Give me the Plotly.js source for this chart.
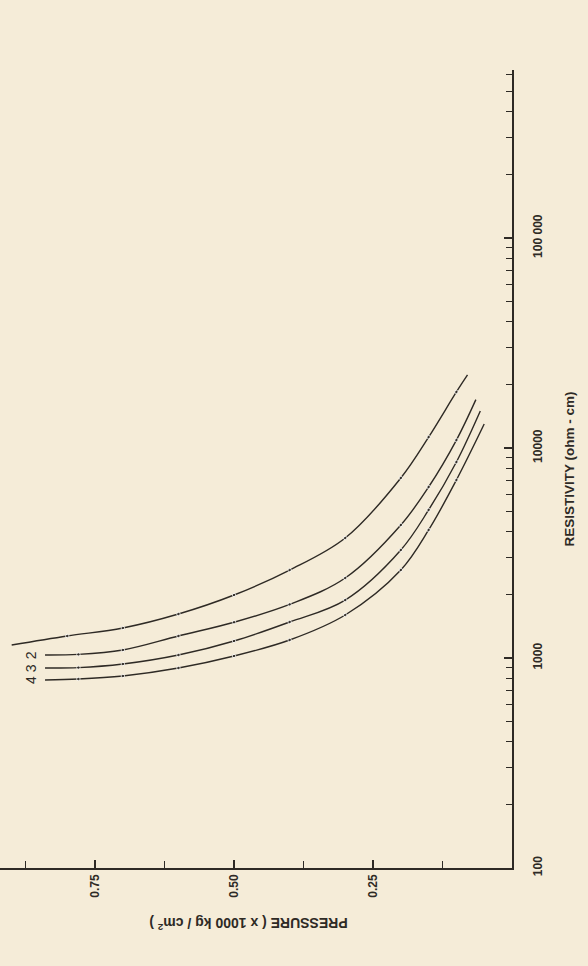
<!DOCTYPE html>
<html>
<head>
<meta charset="utf-8">
<script src="https://cdn.plot.ly/plotly-3.0.1.min.js"></script>
<style>
  html, body { margin: 0; padding: 0; background: #f5ecd8; }
  #chart { width: 588px; height: 966px; }
</style>
</head>
<body>
<div id="chart"></div>
<script>
// Pressure (x1000 kg/cm^2) and resistivity (ohm-cm)
const pressure1 = [0.90, 0.80, 0.70, 0.60, 0.50, 0.40, 0.30, 0.20, 0.15, 0.10, 0.08];
const resist1   = [1153, 1273, 1390, 1620, 1995, 2624, 3728, 7200, 11270, 18490, 22280];
const pressure2 = [0.84, 0.78, 0.70, 0.60, 0.50, 0.40, 0.30, 0.20, 0.15, 0.10, 0.065];
const resist2   = [1033, 1040, 1092, 1273, 1480, 1800, 2404, 4298, 6520, 10910, 17000];
const pressure3 = [0.84, 0.78, 0.70, 0.60, 0.50, 0.40, 0.30, 0.20, 0.15, 0.10, 0.057];
const resist3   = [896, 900, 936, 1033, 1205, 1484, 1888, 3268, 5070, 8575, 15000];
const pressure4 = [0.84, 0.78, 0.70, 0.60, 0.50, 0.40, 0.30, 0.20, 0.15, 0.10, 0.05];
const resist4   = [786, 794, 821, 896, 1022, 1218, 1602, 2624, 4070, 7040, 13000];
const curveNames = ['1', '2', '3', '4'];

const pressureTicks = [0.25, 0.50, 0.75];
const pressureTickText = ['0.25', '0.50', '0.75'];
const resistTicks = [100, 1000, 10000, 100000];
const resistTickText = ['100', '1000', '10000', '100 000'];

const ink = '#2e2a25';
const paper = '#f5ecd8';
const fontFamily = 'Liberation Sans, Arial, sans-serif';

const series = [
  [pressure1, resist1], [pressure2, resist2], [pressure3, resist3], [pressure4, resist4]
];

const traces = series.map(function (s, i) {
  const n = s[0].length;
  const sizes = s[0].map(function (_, j) { return (j === 0 || j === n - 1) ? 0 : 3.5; });
  return {
    x: s[0], y: s[1], name: curveNames[i],
    type: 'scatter', mode: 'lines+markers',
    line: { color: ink, width: 1.4, shape: 'spline', smoothing: 1 },
    marker: { color: ink, size: sizes, symbol: 'circle' },
    showlegend: false, hoverinfo: 'skip'
  };
});

// minor tick positions for the axes
const minorResist = [];
for (let d = 100; d <= 100000; d *= 10) {
  for (let k = 2; k <= 9; k++) minorResist.push(d * k);
}
const minorPressure = [0.125, 0.375, 0.625, 0.875];

const tickFont = { family: fontFamily, size: 12, color: ink, weight: 'bold' };

// labels of curves 2, 3, 4 at their high-pressure ends
const annotations = [1, 2, 3].map(function (i) {
  return {
    x: series[i][0][0] + 0.025, y: Math.log10(series[i][1][0]),
    xref: 'x', yref: 'y', text: curveNames[i], showarrow: false,
    textangle: -90, font: { family: fontFamily, size: 14, color: ink }
  };
});
annotations.push({
  xref: 'paper', yref: 'paper', x: 0.485, y: -0.07,
  xanchor: 'center', yanchor: 'middle',
  text: 'PRESSURE ( x 1000 kg / cm<sup>2</sup> )', showarrow: false,
  textangle: 180, font: { family: fontFamily, size: 14, color: ink, weight: 'bold' }
});

const layout = {
  width: 588, height: 966,
  margin: { l: 0, r: 76, t: 70, b: 98 },
  paper_bgcolor: paper, plot_bgcolor: paper,
  showlegend: false,
  xaxis: {
    range: [0.921, 0], showgrid: false, zeroline: false,
    showline: true, linecolor: ink, linewidth: 1.6,
    tickmode: 'array', tickvals: pressureTicks, ticktext: pressureTickText,
    ticks: 'inside', ticklen: 8, tickwidth: 1.2, tickcolor: ink,
    tickangle: -90, tickfont: tickFont, ticklabelstandoff: 0,
    minor: { tickmode: 'array', tickvals: minorPressure, ticks: 'inside', ticklen: 7, tickwidth: 1, tickcolor: ink, showgrid: false }
  },
  yaxis: {
    type: 'log', range: [2, 5.8], side: 'right',
    showgrid: false, zeroline: false,
    showline: true, linecolor: ink, linewidth: 1.6,
    tickmode: 'array', tickvals: resistTicks, ticktext: resistTickText,
    ticks: 'inside', ticklen: 8, tickwidth: 1.2, tickcolor: ink,
    tickangle: -90, tickfont: tickFont, ticklabelstandoff: 14,
    minor: { tickmode: 'array', tickvals: minorResist, ticks: 'inside', ticklen: 6, tickwidth: 1, tickcolor: ink, showgrid: false },
    title: { text: 'RESISTIVITY (ohm - cm)', standoff: 20,
      font: { family: fontFamily, size: 13.5, color: ink, weight: 'bold' } }
  },
  annotations: annotations
};

Plotly.newPlot('chart', traces, layout, { staticPlot: true, displayModeBar: false });
</script>
</body>
</html>
